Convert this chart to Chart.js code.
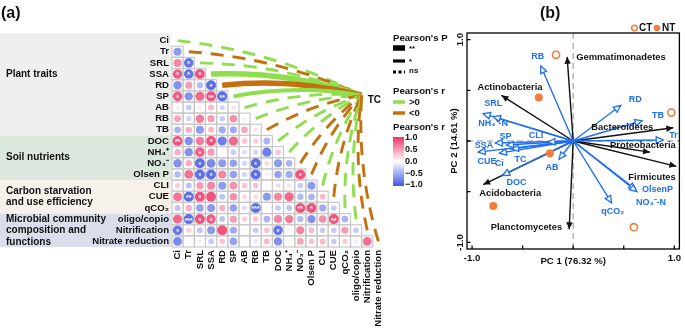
<!DOCTYPE html>
<html>
<head>
<meta charset="utf-8">
<script src="https://cdn.jsdelivr.net/npm/chart.js@4.4.1/dist/chart.umd.min.js"></script>
<style>
  html, body { margin: 0; padding: 0; background: #fff; }
  #wrap { position: relative; width: 685px; height: 328px; overflow: hidden; }
  #ca { position: absolute; left: 0; top: 0; }
  #cb { position: absolute; left: 440px; top: 0; }
</style>
</head>
<body>
<div id="wrap">
  <canvas id="ca" width="470" height="328"></canvas>
  <canvas id="cb" width="245" height="328"></canvas>
</div>
<script>
// ---------- data: panel (a) ----------
const varNames = ['Ci', 'Tr', 'SRL', 'SSA', 'RD', 'SP', 'AB', 'RB', 'TB', 'DOC', 'NH₄⁺', 'NO₃⁻', 'Olsen P',
  'CLI', 'CUE', 'qCO₂', 'oligo/copio', 'Nitrification', 'Nitrate reduction'];

// lower triangle of Pearson's r (row i, columns 0..i-1)
const corr = [
  [],
  [-0.60],
  [0.60, -0.80],
  [0.80, -0.80, 0.85],
  [-0.65, 0.50, -0.40, -0.85],
  [0.80, -0.65, 0.75, 0.85, -0.85],
  [0.10, -0.30, 0.10, 0.35, -0.25, 0.15],
  [0.45, -0.25, 0.65, 0.50, -0.30, 0.55, 0.10],
  [-0.45, 0.40, -0.60, 0.35, -0.50, -0.50, 0.45, 0.15],
  [0.85, -0.65, 0.65, 0.85, -0.75, 0.75, 0.30, 0.25, -0.45],
  [0.40, -0.65, 0.80, 0.50, 0.05, -0.30, -0.20, -0.25, -0.75, 0.30],
  [-0.65, 0.40, -0.85, -0.70, -0.60, -0.55, -0.25, -0.85, 0.20, -0.60, -0.45],
  [-0.40, 0.70, -0.85, -0.85, 0.60, -0.55, -0.25, -0.85, 0.10, -0.55, -0.50, 0.85],
  [0.25, -0.35, 0.50, 0.60, -0.60, 0.55, 0.30, 0.30, 0.05, 0.20, 0.15, -0.30, -0.60],
  [0.70, -0.85, 0.85, 0.85, -0.35, 0.55, 0.20, 0.20, -0.60, 0.60, 0.75, -0.40, -0.45, 0.35],
  [-0.35, 0.40, -0.55, -0.60, 0.40, -0.55, -0.20, -0.85, 0.05, -0.30, -0.35, 0.85, 0.85, -0.50, -0.30],
  [0.75, -0.85, 0.85, 0.80, -0.35, 0.50, 0.25, 0.30, -0.45, 0.60, 0.65, -0.40, -0.65, 0.55, 0.85, -0.45],
  [-0.80, 0.25, -0.35, -0.60, 0.85, -0.50, 0.05, -0.30, 0.30, -0.80, 0.05, 0.60, 0.35, -0.30, -0.30, 0.50, -0.30],
  [-0.70, 0.05, -0.10, -0.30, 0.30, -0.55, 0.05, -0.15, 0.35, -0.65, 0.05, 0.45, 0.30, 0.35, -0.30, 0.25, -0.10, 0.70]
];

// significance marks inside cells: [row, col, label]
const stars = [
  [2, 1, '*'], [3, 0, '*'], [3, 1, '*'], [3, 2, '*'], [4, 3, '*'],
  [5, 0, '*'], [5, 3, '**'], [5, 4, '**'], [9, 0, '**'], [9, 3, '*'],
  [10, 2, '*'], [11, 2, '*'], [11, 7, '*'], [12, 2, '*'], [12, 3, '*'],
  [12, 7, '*'], [12, 11, '*'], [14, 1, '**'], [14, 2, '*'], [15, 7, '***'],
  [15, 11, '**'], [15, 12, '*'], [16, 1, '***'], [16, 2, '*'], [16, 3, '*'],
  [16, 14, '**'], [17, 0, '*'], [17, 9, '*']
];

// links between TC and each variable
const linkDir = ['pos', 'neg', 'pos', 'pos', 'neg', 'pos', 'pos', 'pos', 'neg', 'pos',
  'pos', 'neg', 'neg', 'pos', 'neg', 'pos', 'pos', 'neg', 'neg'];
const linkP = ['ns', 'ns', 'ns', '**', '**', '*', 'ns', 'ns', 'ns', 'ns',
  'ns', 'ns', 'ns', 'ns', 'ns', 'ns', 'ns', 'ns', 'ns'];

const groups = [
  { lines: ['Plant traits'], from: 0, to: 8, labelRow: 3, color: '#efefef' },
  { lines: ['Soil nutrients'], from: 9, to: 12, labelRow: 10.5, color: '#dce8de' },
  { lines: ['Carbon starvation', 'and use efficiency'], from: 13, to: 15, labelRow: 14, color: '#f6f1eb' },
  { lines: ['Microbial community', 'composition and', 'functions'], from: 16, to: 18, labelRow: 17, color: '#d9deea' }
];

// ---------- data: panel (b) ----------
const ctX = [-0.17, 0.97, 0.60];
const ctY = [0.85, 0.28, -0.85];
const ntX = [-0.34, -0.23, -0.79];
const ntY = [0.43, -0.12, -0.64];

const envNames = ['RB', 'RD', 'TB', 'Tr', 'SRL', 'NH₄⁺-N', 'SSA', 'SP', 'CLI', 'CUE', 'Ci', 'TC', 'DOC', 'AB', 'qCO₂', 'OlsenP', 'NO₃⁻-N'];
const envX = [-0.32, 0.47, 0.68, 0.89, -0.89, -0.79, -0.77, -0.66, -0.25, -0.94, -0.73, -0.61, -0.70, -0.14, 0.38, 0.62, 0.63];
const envY = [0.74, 0.35, 0.20, 0.01, 0.27, 0.24, -0.02, -0.04, -0.01, -0.11, -0.12, -0.08, -0.34, -0.18, -0.61, -0.48, -0.50];

const taxaNames = ['Gemmatimonadetes', 'Actinobacteria', 'Bacteroidetes', 'Proteobacteria', 'Firmicutes', 'Acidobacteria', 'Planctomycetes'];
const taxaX = [-0.06, -0.71, 0.99, 0.76, 1.02, -0.89, -0.04];
const taxaY = [0.83, 0.45, 0.13, -0.11, -0.25, -0.43, -0.87];

const pcTicks = [-1, -0.5, 0, 0.5, 1];

// label placement (px offset from arrow tip, alignment)
const envLabelPos = [[-3, -9, 'center'], [8, -6, 'left'], [10, -5, 'left'], [6, -4, 'left'], [1, -10, 'left'],
  [-15, 7, 'left'], [-2, 2, 'right'], [-1, -9, 'center'], [-12, -6, 'center'], [9, 9, 'center'],
  [0, 10, 'center'], [9, 10, 'center'], [4, 7, 'left'], [-7, 8, 'center'], [1, 9, 'center'],
  [6, 0, 'left'], [-1, 11, 'left']];
const taxaLabelPos = [[9, 1, 'left'], [-24, -8, 'left'], [-82, 0, 'left'], [-40, -7, 'left'],
  [-48, 11, 'left'], [-4, 9, 'left'], [-7, -2, 'right']];

// ---------- style ----------
const FONT = '"Liberation Sans", Arial, Helvetica, sans-serif';
Chart.defaults.font.family = FONT;
Chart.defaults.color = '#111';
const LBL = 'bold 9.6px ' + FONT;
const GREEN = '#8ede4e', BROWN = '#c4700e';
const BLUE = '#1f6ff2', ORANGE = '#f47c3c';
const PINK = [236, 54, 104], BLUEC = [64, 86, 228];

function corrColor(v) {
  const a = Math.min(1, Math.abs(v));
  const c = v > 0 ? PINK : BLUEC;
  const m = k => Math.round(255 + (c[k] - 255) * a);
  return `rgb(${m(0)},${m(1)},${m(2)})`;
}

// ---------- panel (a) ----------
const cells = [];
corr.forEach((row, i) => row.forEach((v, j) => cells.push({ x: j, y: i, v })));

const tcNode = { x: 16.5, y: 4.9 };

const matrixPlugin = {
  id: 'matrixDecor',
  beforeDraw(chart) {
    const { ctx, scales: { x, y } } = chart;
    ctx.save();
    groups.forEach(g => {
      const top = y.getPixelForValue(g.from - 0.5), bot = y.getPixelForValue(g.to + 0.5);
      ctx.fillStyle = g.color;
      ctx.fillRect(0, g.from === 0 ? top - 2 : top, x.left - 1, bot - top + (g.from === 0 ? 2 : 0));
      ctx.fillStyle = '#111';
      ctx.font = 'bold 10px ' + FONT;
      ctx.textBaseline = 'middle';
      ctx.textAlign = 'left';
      const cy = y.getPixelForValue(g.labelRow);
      const lh = 11.5;
      g.lines.forEach((t, k) => ctx.fillText(t, 6, cy + (k - (g.lines.length - 1) / 2) * lh));
    });
    ctx.restore();
  },
  beforeDatasetsDraw(chart) {
    const { ctx, scales: { x, y } } = chart;
    const w = Math.abs(x.getPixelForValue(1) - x.getPixelForValue(0));
    const h = Math.abs(y.getPixelForValue(1) - y.getPixelForValue(0));
    ctx.save();
    ctx.strokeStyle = '#c9c9c9';
    ctx.lineWidth = 1.2;
    corr.forEach((row, i) => row.forEach((v, j) => {
      ctx.strokeRect(x.getPixelForValue(j) - w / 2, y.getPixelForValue(i) - h / 2, w, h);
    }));
    ctx.restore();
  },
  afterDatasetsDraw(chart) {
    const { ctx, scales: { x, y } } = chart;
    ctx.save();
    // stars
    ctx.fillStyle = '#fff';
    ctx.font = 'bold 7px ' + FONT;
    ctx.textAlign = 'center';
    ctx.textBaseline = 'middle';
    stars.forEach(([i, j, s]) => ctx.fillText(s, x.getPixelForValue(j), y.getPixelForValue(i) + 1.5));

    // links to TC
    const ex = x.getPixelForValue(tcNode.x), ey = y.getPixelForValue(tcNode.y);
    const K = 0.09;
    varNames.forEach((n, i) => {
      const sx = x.getPixelForValue(i), sy = y.getPixelForValue(i);
      const dx = sx - ex, dy = sy - ey;
      const cx = (sx + ex) / 2 - dy * K, cy = (sy + ey) / 2 + dx * K;
      ctx.beginPath();
      ctx.moveTo(sx, sy);
      ctx.quadraticCurveTo(cx, cy, ex, ey);
      ctx.strokeStyle = linkDir[i] === 'pos' ? GREEN : BROWN;
      ctx.lineCap = 'butt';
      if (linkP[i] === '**') { ctx.lineWidth = 5.5; ctx.setLineDash([]); }
      else if (linkP[i] === '*') { ctx.lineWidth = 3.8; ctx.setLineDash([]); }
      else { ctx.lineWidth = 2.9; ctx.setLineDash([13, 9]); }
      ctx.stroke();
    });
    ctx.setLineDash([]);
    ctx.fillStyle = '#111';
    ctx.font = 'bold 10px ' + FONT;
    ctx.textAlign = 'left';
    ctx.fillText('TC', ex + 6, ey + 5);

    // legends
    const lx = 393;
    ctx.font = LBL;
    ctx.fillText("Pearson's P", lx, 38);
    ctx.strokeStyle = '#000';
    [[48, 5.5, [], '**'], [61, 3.2, [], '*'], [72, 3, [3, 2.5], 'ns']].forEach(([yy, lw, dash, t]) => {
      ctx.beginPath(); ctx.lineWidth = lw; ctx.setLineDash(dash);
      ctx.moveTo(lx, yy); ctx.lineTo(lx + 12, yy); ctx.stroke();
      ctx.setLineDash([]);
      ctx.font = 'bold 8px ' + FONT;
      ctx.fillText(t, lx + 16, t === 'ns' ? yy - 1 : yy + 1);
    });
    ctx.font = LBL;
    ctx.fillText("Pearson's r", lx, 91);
    [[102, GREEN, '>0'], [113, BROWN, '<0']].forEach(([yy, c, t]) => {
      ctx.beginPath(); ctx.lineWidth = 3.5; ctx.strokeStyle = c;
      ctx.moveTo(lx, yy); ctx.lineTo(lx + 12, yy); ctx.stroke();
      ctx.fillText(t, lx + 16, yy);
    });
    ctx.fillText("Pearson's r", lx, 127);
    const gy0 = 137, gy1 = 186;
    const grad = ctx.createLinearGradient(0, gy0, 0, gy1);
    grad.addColorStop(0, corrColor(1));
    grad.addColorStop(0.5, '#ffffff');
    grad.addColorStop(1, corrColor(-1));
    ctx.fillStyle = grad;
    ctx.fillRect(lx, gy0, 11, gy1 - gy0);
    ctx.fillStyle = '#111';
    ctx.font = 'bold 9px ' + FONT;
    ['1.0', '0.5', '0.0', '−0.5', '−1.0'].forEach((t, k) => ctx.fillText(t, lx + 12, gy0 + 1 + k * (gy1 - gy0 - 2) / 4));

    ctx.font = 'bold 16px ' + FONT;
    ctx.fillText('(a)', 1, 14);
    ctx.restore();
  }
};

new Chart(document.getElementById('ca'), {
  type: 'bubble',
  data: {
    datasets: [{
      data: cells,
      radius: c => 1.6 + 4 * Math.abs(c.raw.v),
      backgroundColor: c => corrColor(c.raw.v),
      borderWidth: 0,
      hoverRadius: 0
    }]
  },
  options: {
    responsive: false,
    devicePixelRatio: 1,
    animation: false,
    events: [],
    layout: { padding: { left: 0, top: 35, right: 86, bottom: 0 } },
    plugins: { legend: { display: false }, tooltip: { enabled: false } },
    scales: {
      x: {
        type: 'linear', min: -0.5, max: 18.5,
        afterBuildTicks: a => { a.ticks = varNames.map((_, i) => ({ value: i })); },
        afterFit: s => { s.height = 81; },
        ticks: { autoSkip: false, minRotation: 90, maxRotation: 90, padding: 3, color: '#111',
          font: { size: 9.6, weight: 'bold' }, callback: v => varNames[v] },
        grid: { display: false, drawTicks: false },
        border: { display: false }
      },
      y: {
        type: 'linear', min: -0.5, max: 18.5, reverse: true,
        afterBuildTicks: a => { a.ticks = varNames.map((_, i) => ({ value: i })); },
        afterFit: s => { s.width = 172; },
        ticks: { autoSkip: false, padding: 3, color: '#111',
          font: { size: 9.6, weight: 'bold' }, callback: v => varNames[v] },
        grid: { display: false, drawTicks: false },
        border: { display: false }
      }
    }
  },
  plugins: [matrixPlugin]
});

// ---------- panel (b) ----------
function arrowSet(x, y, color, kind, idx) {
  return {
    data: [{ x: 0, y: 0 }, { x, y }],
    showLine: true, borderColor: color, borderWidth: 1.4,
    pointRadius: 0, kind, idx
  };
}

const pcaPlugin = {
  id: 'pcaDecor',
  beforeDatasetsDraw(chart) {
    const { ctx, chartArea: a, scales: { x, y } } = chart;
    ctx.save();
    ctx.strokeStyle = '#b5b5b5';
    ctx.lineWidth = 1.5;
    ctx.setLineDash([6, 4]);
    ctx.beginPath();
    ctx.moveTo(x.getPixelForValue(0), a.top); ctx.lineTo(x.getPixelForValue(0), a.bottom);
    ctx.moveTo(a.left, y.getPixelForValue(0)); ctx.lineTo(a.right, y.getPixelForValue(0));
    ctx.stroke();
    ctx.restore();
  },
  afterDatasetsDraw(chart) {
    const { ctx, chartArea: a, scales: { x, y } } = chart;
    ctx.save();
    // arrow heads and labels
    chart.data.datasets.forEach((ds, di) => {
      if (!ds.kind) return;
      const pts = chart.getDatasetMeta(di).data;
      const p0 = pts[0], p1 = pts[1];
      const ang = Math.atan2(p1.y - p0.y, p1.x - p0.x);
      const L = 7, W = 3.2;
      const bx = p1.x - L * Math.cos(ang), by = p1.y - L * Math.sin(ang);
      ctx.beginPath();
      ctx.moveTo(p1.x, p1.y);
      ctx.lineTo(bx - W * Math.sin(ang), by + W * Math.cos(ang));
      ctx.lineTo(bx + W * Math.sin(ang), by - W * Math.cos(ang));
      ctx.closePath();
      let name, pos;
      if (ds.kind === 'env') {
        ctx.fillStyle = '#fff'; ctx.fill();
        ctx.strokeStyle = BLUE; ctx.lineWidth = 1.3; ctx.stroke();
        name = envNames[ds.idx]; pos = envLabelPos[ds.idx];
        ctx.fillStyle = BLUE; ctx.font = 'bold 9px ' + FONT;
      } else {
        ctx.fillStyle = '#111'; ctx.fill();
        name = taxaNames[ds.idx]; pos = taxaLabelPos[ds.idx];
        ctx.font = 'bold 9.4px ' + FONT;
      }
      ctx.textAlign = pos[2];
      ctx.textBaseline = 'middle';
      ctx.fillText(name, p1.x + pos[0], p1.y + pos[1]);
    });

    // frame, ticks, labels
    ctx.strokeStyle = '#000';
    ctx.lineWidth = 1.3;
    ctx.strokeRect(a.left, a.top, a.right - a.left, a.bottom - a.top);
    ctx.beginPath();
    pcTicks.forEach(t => {
      const px = x.getPixelForValue(t), py = y.getPixelForValue(t);
      ctx.moveTo(px, a.bottom); ctx.lineTo(px, a.bottom - 3.5);
      ctx.moveTo(a.left, py); ctx.lineTo(a.left + 3.5, py);
    });
    ctx.stroke();
    ctx.fillStyle = '#111';
    ctx.font = 'bold 9.6px ' + FONT;
    ctx.textBaseline = 'middle';
    ctx.textAlign = 'center';
    [-1, 1].forEach(t => ctx.fillText(t.toFixed(1), x.getPixelForValue(t), a.bottom + 9));
    ctx.fillText('PC 1 (76.32 %)', (a.left + a.right) / 2, a.bottom + 12);
    [-1, 1].forEach(t => {
      ctx.save();
      ctx.translate(a.left - 7, y.getPixelForValue(t));
      ctx.rotate(-Math.PI / 2);
      ctx.fillText(t.toFixed(1), 0, 0);
      ctx.restore();
    });
    ctx.save();
    ctx.translate(a.left - 13, (a.top + a.bottom) / 2);
    ctx.rotate(-Math.PI / 2);
    ctx.fillText('PC 2 (14.61 %)', 0, 0);
    ctx.restore();

    // legend
    ctx.textAlign = 'left';
    ctx.font = 'bold 10px ' + FONT;
    ctx.beginPath(); ctx.arc(194.5, 28, 2.8, 0, Math.PI * 2);
    ctx.strokeStyle = ORANGE; ctx.lineWidth = 1.5; ctx.stroke();
    ctx.fillText('CT', 199, 28.5);
    ctx.beginPath(); ctx.arc(217, 28, 3.2, 0, Math.PI * 2);
    ctx.fillStyle = ORANGE; ctx.fill();
    ctx.fillStyle = '#111';
    ctx.fillText('NT', 222, 28.5);

    ctx.font = 'bold 16px ' + FONT;
    ctx.fillText('(b)', 100, 14);
    ctx.restore();
  }
};

new Chart(document.getElementById('cb'), {
  type: 'scatter',
  data: {
    datasets: [
      { label: 'CT', data: ctX.map((v, i) => ({ x: v, y: ctY[i] })), pointRadius: 3.6,
        pointBorderWidth: 1.6, pointBackgroundColor: '#fff', pointBorderColor: ORANGE },
      { label: 'NT', data: ntX.map((v, i) => ({ x: v, y: ntY[i] })), pointRadius: 4,
        pointBorderWidth: 0, pointBackgroundColor: ORANGE, pointBorderColor: ORANGE },
      ...envNames.map((n, i) => arrowSet(envX[i], envY[i], BLUE, 'env', i)),
      ...taxaNames.map((n, i) => arrowSet(taxaX[i], taxaY[i], '#111', 'taxa', i))
    ]
  },
  options: {
    responsive: false,
    devicePixelRatio: 1,
    animation: false,
    events: [],
    layout: { padding: { left: 27, top: 33, right: 4, bottom: 79 } },
    plugins: { legend: { display: false }, tooltip: { enabled: false } },
    scales: {
      x: { type: 'linear', min: -1.05, max: 1.05, display: false },
      y: { type: 'linear', min: -1.065, max: 1.065, display: false }
    }
  },
  plugins: [pcaPlugin]
});
</script>
</body>
</html>
